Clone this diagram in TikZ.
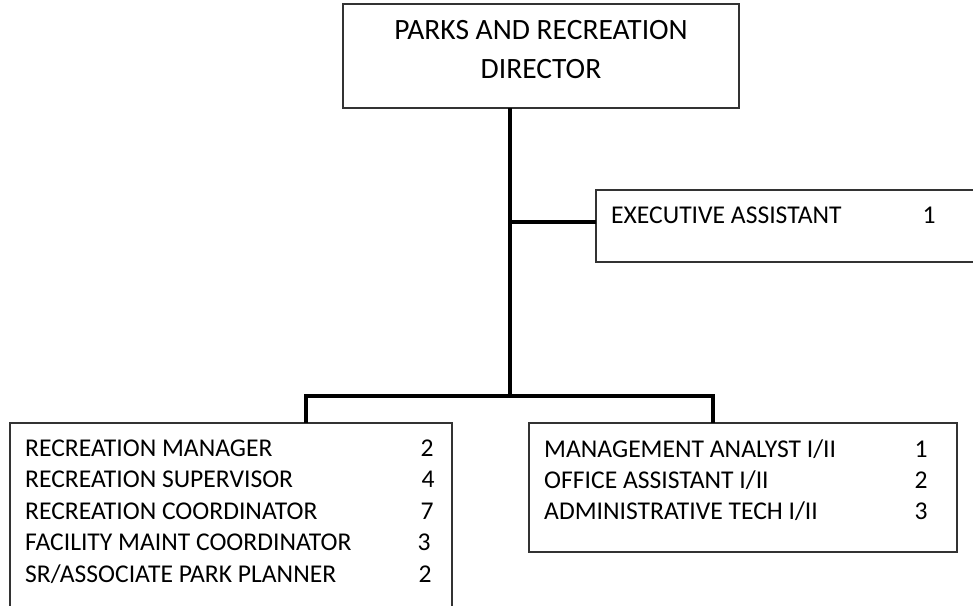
\documentclass[tikz,border=0pt]{standalone}
\usepackage{fontspec}
\setmainfont{Carlito}
\begin{document}
\begin{tikzpicture}[x=1pt,y=-1pt,
  box/.style={draw=black!80,line width=1.2pt,fill=white},
  link/.style={draw=black,line width=3.5pt,line join=miter},
  txt/.style={inner sep=0pt,anchor=base west,font=\fontsize{25.6}{30}\selectfont},
  num/.style={inner sep=0pt,anchor=base,font=\fontsize{25.6}{30}\selectfont},
  head/.style={inner sep=0pt,anchor=base,font=\fontsize{29.5}{34}\selectfont}]
\useasboundingbox (0,0) rectangle (973,605);
\clip (0,0) rectangle (973,605);

% boxes
\path[box] (343,4) rectangle (739,108);
\node[inner sep=0pt,minimum width=396pt,minimum height=104pt] (dir) at (541,56) {};
\path[box] (596,190) rectangle (990,262);
\node[inner sep=0pt,minimum width=394pt,minimum height=72pt] (exec) at (793,226) {};
\path[box] (10,423) rectangle (452,640);
\node[inner sep=0pt,minimum width=442pt,minimum height=217pt] (left) at (231,531.5) {};
\path[box] (529,423) rectangle (957,552);
\node[inner sep=0pt,minimum width=428pt,minimum height=129pt] (right) at (743,487.5) {};

% connectors
\coordinate (j1) at (510,222);
\coordinate (j2) at (510,396);
\coordinate (b1) at (306,396);
\coordinate (b2) at (713,396);
\draw[link] (dir.south -| j1) -- (j2);
\draw[link] (j1) -- (j1 -| exec.west);
\draw[link] (left.north -| b1) -- (b1) -- (b2) -- (right.north -| b2);

% director
\node[head] (d1) at (541,39) {PARKS AND RECREATION};
\node[head] (d2) at (541,78) {DIRECTOR};

% executive assistant
\node[txt] (e1) at (611,223) {EXECUTIVE ASSISTANT};
\node[num] (e1n) at (929,223) {1};

% recreation division
\node[txt] (l1) at (25,456) {RECREATION MANAGER};
\node[txt] (l2) at (25,487.5) {RECREATION SUPERVISOR};
\node[txt] (l3) at (25,519) {RECREATION COORDINATOR};
\node[txt] (l4) at (25,550.5) {FACILITY MAINT COORDINATOR};
\node[txt] (l5) at (25,582) {SR/ASSOCIATE PARK PLANNER};
\node[num] (l1n) at (427,456) {2};
\node[num] (l2n) at (428,487.5) {4};
\node[num] (l3n) at (427,519) {7};
\node[num] (l4n) at (424,550.5) {3};
\node[num] (l5n) at (425,582) {2};

% administration
\node[txt] (r1) at (544,457) {MANAGEMENT ANALYST I/II};
\node[txt] (r2) at (544,488) {OFFICE ASSISTANT I/II};
\node[txt] (r3) at (544,519) {ADMINISTRATIVE TECH I/II};
\node[num] (r1n) at (921,457) {1};
\node[num] (r2n) at (921,488) {2};
\node[num] (r3n) at (921,519) {3};
\end{tikzpicture}
\end{document}
